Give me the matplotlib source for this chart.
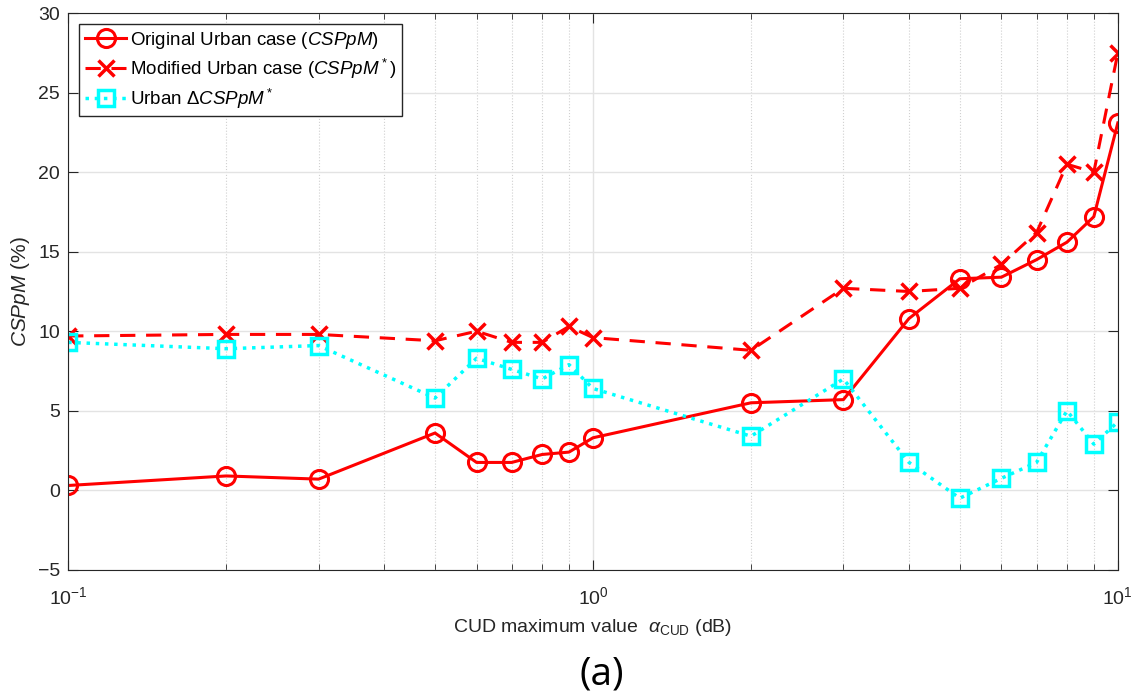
import matplotlib.pyplot as plt
from matplotlib.ticker import LogLocator, NullFormatter

plt.rcParams['font.family'] = ['Liberation Sans', 'DejaVu Sans']
plt.rcParams['mathtext.fontset'] = 'custom'
plt.rcParams['mathtext.it'] = 'Liberation Sans:italic'
plt.rcParams['mathtext.rm'] = 'Liberation Sans'

alpha = [0.1, 0.2, 0.3, 0.5, 0.6, 0.7, 0.8, 0.9, 1, 2, 3, 4, 5, 6, 7, 8, 9, 10]
original = [0.3, 0.9, 0.7, 3.6, 1.75, 1.75, 2.25, 2.4, 3.3, 5.5, 5.7, 10.8,
            13.3, 13.4, 14.5, 15.6, 17.2, 23.1]
modified = [9.7, 9.8, 9.8, 9.4, 10.0, 9.3, 9.3, 10.3, 9.6, 8.8, 12.7, 12.5,
            12.7, 14.2, 16.2, 20.5, 20.0, 27.5]
delta = [9.3, 8.9, 9.1, 5.8, 8.3, 7.6, 7.0, 7.9, 6.4, 3.4, 7.0, 1.75,
         -0.5, 0.75, 1.75, 5.0, 2.9, 4.3]

fig = plt.figure(figsize=(11.36, 6.94), dpi=100)
ax = fig.add_axes([0.06, 0.179, 0.924, 0.802])

ax.plot(alpha, original, '-o', color='red', lw=2.2, ms=13, mfc='none', mew=2.2,
        label='Original Urban case ($\\mathit{CSPpM}$)')
ax.plot(alpha, modified, '--x', color='red', lw=2.2, ms=12, mew=2.5,
        dashes=(5, 3.5), label='Modified Urban case ($\\mathit{CSPpM}^*$)')
ax.plot(alpha, delta, ':s', color='cyan', lw=2.5, ms=11, mfc='none', mew=2.5,
        label='Urban $\\Delta\\mathit{CSPpM}^*$')

ax.set_xscale('log')
ax.set_xlim(0.1, 10)
ax.set_ylim(-5, 30)
ax.set_yticks(range(-5, 31, 5))
ax.xaxis.set_minor_locator(LogLocator(base=10, subs=range(2, 10)))
ax.xaxis.set_minor_formatter(NullFormatter())

ax.grid(True, which='major', color='#e3e3e3', lw=1, ls='-')
ax.grid(True, which='minor', axis='x', color='#d0d0d0', lw=0.8, ls=':')
ax.tick_params(which='both', direction='in', top=True, right=True,
               labelsize=14, colors='#262626')
ax.tick_params(which='major', length=7)
ax.tick_params(which='minor', length=4)
ax.tick_params(axis='x', which='major', pad=12)
ax.tick_params(axis='y', which='major', pad=6)
for s in ax.spines.values():
    s.set_color('#262626')

ax.set_xlabel('CUD maximum value  $\\alpha_{\\mathrm{CUD}}$ (dB)', fontsize=14,
              color='#262626', labelpad=6)
ax.set_ylabel('$\\mathit{CSPpM}$ (%)', fontsize=15, color='#262626')

leg = ax.legend(loc='upper left', fontsize=13.5, fancybox=False, framealpha=1,
                edgecolor='#262626', handlelength=2.2, handletextpad=0.2,
                borderpad=0.3, labelspacing=0.3, borderaxespad=0.6)
leg.get_frame().set_linewidth(1)

fig.text(0.53, 0.0, '(a)', fontsize=28, ha='center', va='bottom',
         family=['Open Sans', 'DejaVu Sans'])

fig.savefig('out.png', dpi=100)
